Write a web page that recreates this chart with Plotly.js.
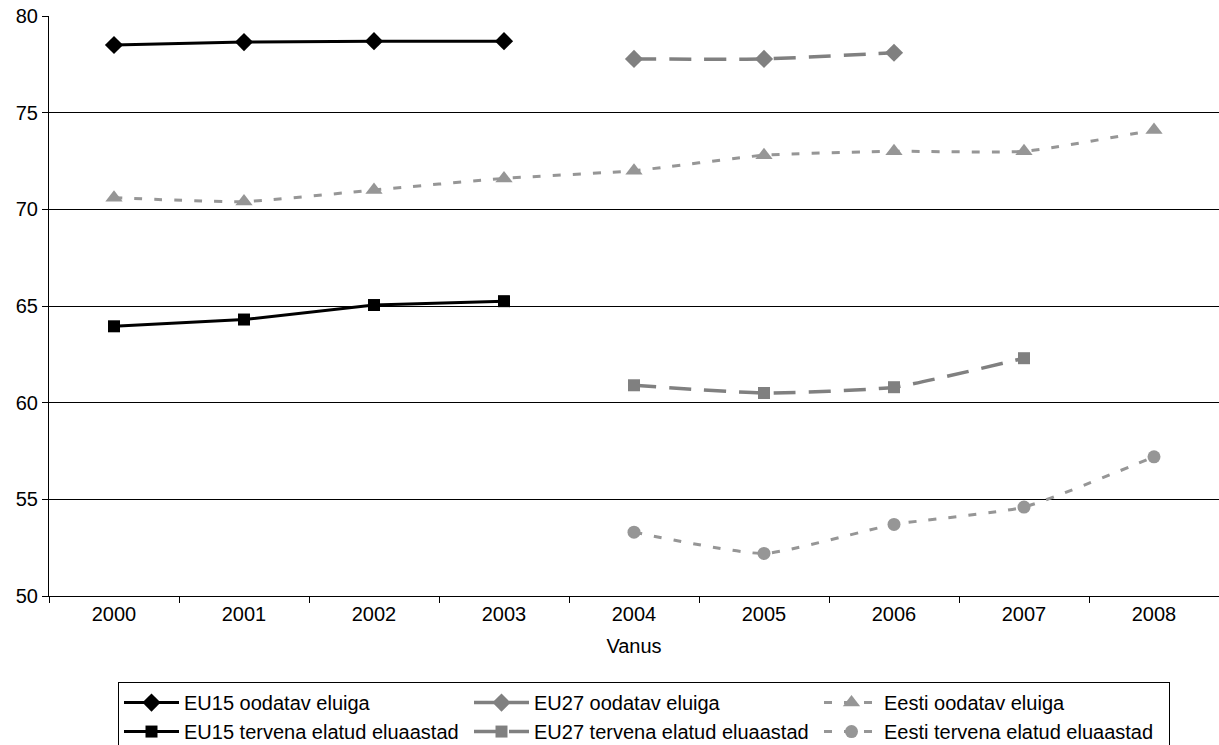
<!DOCTYPE html>
<html><head><meta charset="utf-8">
<script src="https://cdn.plot.ly/plotly-3.0.1.min.js"></script>
<style>html,body{margin:0;padding:0;background:#fff}#chart{width:1219px;height:745px}</style>
</head><body><div id="chart"></div>
<script>
const categories = ['2000','2001','2002','2003','2004','2005','2006','2007','2008'];
const eu15Years = ['2000','2001','2002','2003'];
const eu15Oodatav = [78.5, 78.65, 78.7, 78.7];
const eu15Tervena = [63.95, 64.3, 65.05, 65.25];
const eu27OodYears = ['2004','2005','2006'];
const eu27Oodatav = [77.78, 77.78, 78.1];
const eu27TerYears = ['2004','2005','2006','2007'];
const eu27Tervena = [60.9, 60.5, 60.8, 62.3];
const eestiOodYears = categories;
const eestiOodatav = [70.6, 70.4, 71.0, 71.6, 72.0, 72.8, 73.0, 73.0, 74.1];
const eestiTerYears = ['2004','2005','2006','2007','2008'];
const eestiTervena = [53.3, 52.2, 53.7, 54.6, 57.2];
const names = ['EU15 oodatav eluiga','EU27 oodatav eluiga','Eesti oodatav eluiga',
  'EU15 tervena elatud eluaastad','EU27 tervena elatud eluaastad','Eesti tervena elatud eluaastad'];

const black='#000000', g1='#808080', g2='#969696';
const traces = [
  {x:eu15Years,y:eu15Oodatav,name:names[0],mode:'lines+markers',line:{color:black,width:3},marker:{symbol:'diamond',size:14,color:black}},
  {x:eu27OodYears,y:eu27Oodatav,name:names[1],mode:'lines+markers',line:{color:g1,width:3.5,dash:'22px,13px',shape:'spline',smoothing:0.5},marker:{symbol:'diamond',size:14,color:g1}},
  {x:eestiOodYears,y:eestiOodatav,name:names[2],mode:'lines+markers',line:{color:g2,width:3,dash:'8px,12px',shape:'spline',smoothing:0.5},marker:{symbol:'triangle-up',size:15,color:g2}},
  {x:eu15Years,y:eu15Tervena,name:names[3],mode:'lines+markers',line:{color:black,width:3},marker:{symbol:'square',size:12,color:black}},
  {x:eu27TerYears,y:eu27Tervena,name:names[4],mode:'lines+markers',line:{color:g1,width:3.5,dash:'22px,13px',shape:'spline',smoothing:0.5},marker:{symbol:'square',size:12,color:g1}},
  {x:eestiTerYears,y:eestiTervena,name:names[5],mode:'lines+markers',line:{color:g2,width:3,dash:'8px,12px',shape:'spline',smoothing:0.5},marker:{symbol:'circle',size:13,color:g2}}
];
const layout = {
  width:1219,height:745,
  margin:{l:49,r:0,t:16,b:149},
  paper_bgcolor:'#fff',plot_bgcolor:'#fff',
  font:{family:'Liberation Sans, Arial, sans-serif',size:20,color:'#000'},
  xaxis:{type:'category',categoryorder:'array',categoryarray:categories,range:[-0.5,8.5],
    tickson:'boundaries',ticks:'outside',ticklen:6,tickcolor:'#000',showline:true,linecolor:'#000',linewidth:1,
    showgrid:false,zeroline:false,title:{text:'Vanus',font:{size:20},standoff:14}},
  yaxis:{range:[50,80],dtick:5,ticks:'outside',ticklen:6,tickcolor:'#000',showline:true,linecolor:'#000',linewidth:1,
    gridcolor:'#000',gridwidth:1,zeroline:false,fixedrange:true},
  showlegend:true,
  legend:{orientation:'h',xref:'container',yref:'container',x:0.0968,xanchor:'left',y:0.0845,yanchor:'top',
    bordercolor:'#000',borderwidth:1,bgcolor:'#fff',entrywidth:280,itemwidth:55,font:{size:20},traceorder:'normal'}
};
Plotly.newPlot('chart',traces,layout,{staticPlot:true});
</script></body></html>
